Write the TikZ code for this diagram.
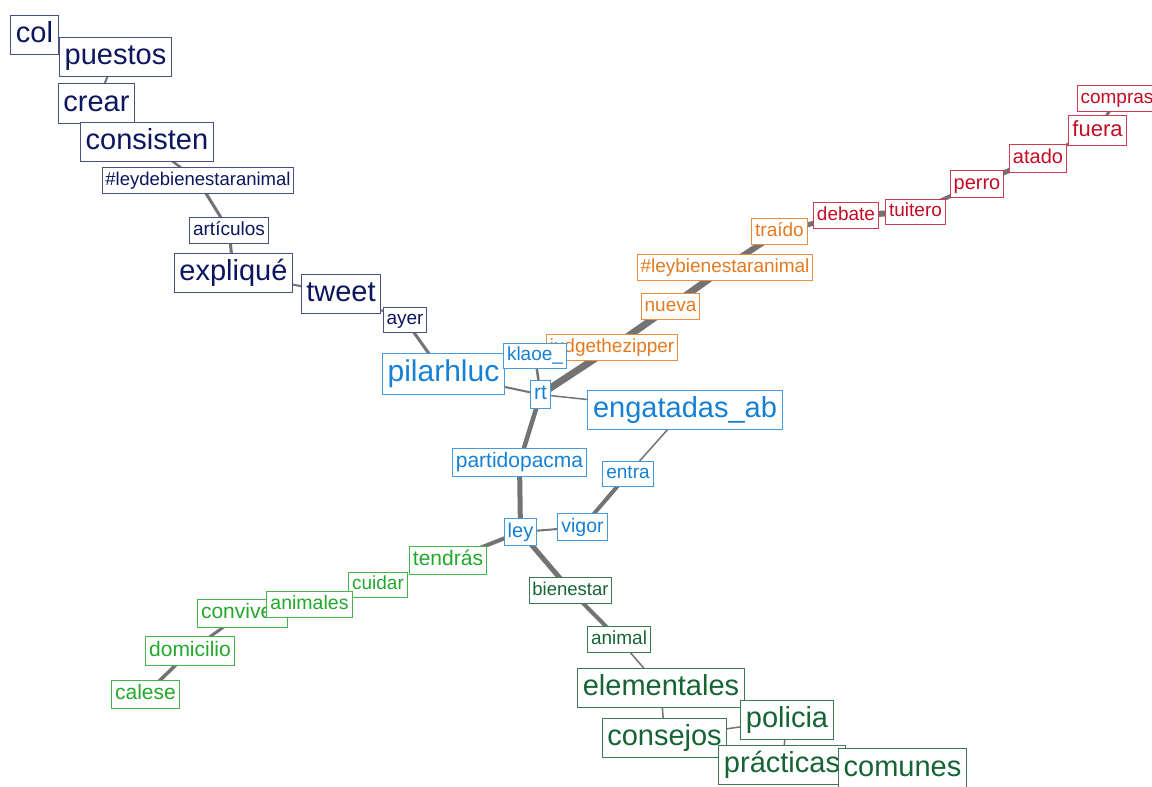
\documentclass[tikz,border=0pt]{standalone}
\usepackage{fontspec}
\setmainfont{Liberation Sans}
\usetikzlibrary{backgrounds}

\definecolor{navyc}{RGB}{12,22,94}
\definecolor{bluec}{RGB}{22,128,212}
\definecolor{orangec}{RGB}{228,122,32}
\definecolor{redc}{RGB}{196,10,36}
\definecolor{greenc}{RGB}{34,168,44}
\definecolor{dgreenc}{RGB}{22,100,52}
\definecolor{edgec}{RGB}{115,115,115}

\tikzset{
  word/.style={draw, fill=white, line width=1pt, anchor=center},
  wsize/.style={font=\fontsize{#1}{#1}\selectfont,
    text height={0.74*#1pt}, text depth={0.22*#1pt},
    inner xsep={0.18*#1pt}, inner ysep={0.2*#1pt}},
  navy/.style={text=navyc, draw=navyc!75},
  blue/.style={text=bluec, draw=bluec!80},
  orange/.style={text=orangec, draw=orangec!85},
  red/.style={text=redc, draw=redc!80},
  green/.style={text=greenc, draw=greenc!85},
  dgreen/.style={text=dgreenc, draw=dgreenc!85},
  link/.style={draw=edgec, line width=#1}
}

\begin{document}
\begin{tikzpicture}[x=1pt, y=-1pt]
  \useasboundingbox (0,0) rectangle (1152,787);

  % navy group
  \node[word, navy, wsize=29] (col) at (34.5,35) {col};
  \node[word, navy, wsize=29] (puestos) at (115.5,57) {puestos};
  \node[word, navy, wsize=29] (crear) at (96.5,103.5) {crear};
  \node[word, navy, wsize=29] (consisten) at (147,142) {consisten};
  \node[word, navy, wsize=18.5] (leydebien) at (198,180.5) {\#leydebienestaranimal};
  \node[word, navy, wsize=19] (articulos) at (229,230.5) {artículos};
  \node[word, navy, wsize=29] (explique) at (233.5,273) {expliqué};
  \node[word, navy, wsize=29] (tweet) at (341,294) {tweet};
  \node[word, navy, wsize=19] (ayer) at (405,320) {ayer};

  % orange group
  \node[word, orange, wsize=19] (zipper) at (612,347.5) {judgethezipper};
  \node[word, orange, wsize=19] (nueva) at (670.5,306.5) {nueva};
  \node[word, orange, wsize=19] (leybien) at (725,267.5) {\#leybienestaranimal};
  \node[word, orange, wsize=19] (traido) at (779.5,231.5) {traído};

  % red group
  \node[word, red, wsize=19] (debate) at (846,215.5) {debate};
  \node[word, red, wsize=19] (tuitero) at (915.5,212) {tuitero};
  \node[word, red, wsize=20] (perro) at (977,184) {perro};
  \node[word, red, wsize=20] (atado) at (1038,158.5) {atado};
  \node[word, red, wsize=22] (fuera) at (1097.5,130.5) {fuera};
  \node[word, red, wsize=19] (compras) at (1117,98.5) {compras};

  % blue group
  \node[word, blue, wsize=30] (pilarhluc) at (443.5,374) {pilarhluc};
  \node[word, blue, wsize=19] (klaoe) at (535,356) {klaoe\_};
  \node[word, blue, wsize=21] (rt) at (540.5,394.5) {rt};
  \node[word, blue, wsize=29] (engatadas) at (685,410) {engatadas\_ab};
  \node[word, blue, wsize=21] (pacma) at (519.5,462.5) {partidopacma};
  \node[word, blue, wsize=19] (entra) at (628,474) {entra};
  \node[word, blue, wsize=20] (ley) at (520.5,532) {ley};
  \node[word, blue, wsize=19.5] (vigor) at (582.5,527) {vigor};

  % green group
  \node[word, green, wsize=21] (tendras) at (448,560.5) {tendrás};
  \node[word, green, wsize=19] (cuidar) at (378,585) {cuidar};
  \node[word, green, wsize=21] (conviven) at (242.5,613.5) {conviven};
  \node[word, green, wsize=19.5] (animales) at (309.5,604.5) {animales};
  \node[word, green, wsize=21] (domicilio) at (190,651) {domicilio};
  \node[word, green, wsize=21] (calese) at (145.5,694.5) {calese};

  % dark green group
  \node[word, dgreen, wsize=18.5] (bienestar) at (570.5,590.5) {bienestar};
  \node[word, dgreen, wsize=19] (animal) at (619,639.5) {animal};
  \node[word, dgreen, wsize=29] (elementales) at (661,688) {elementales};
  \node[word, dgreen, wsize=29] (consejos) at (664.5,738) {consejos};
  \node[word, dgreen, wsize=29] (policia) at (787,720) {policia};
  \node[word, dgreen, wsize=29] (practicas) at (782,765) {prácticas};
  \node[word, dgreen, wsize=29] (comunes) at (902.5,768.5) {comunes};

  % white paper, then links behind the words
  \begin{pgfonlayer}{background}
    \fill[white] (0,0) rectangle (1152,787);
    \foreach \a/\b/\w in {puestos/crear/2, consisten/leydebien/2.5,
        leydebien/articulos/3, articulos/explique/3, explique/tweet/2,
        tweet/ayer/2, ayer/pilarhluc/3, pilarhluc/rt/2, klaoe/rt/2.5,
        rt/engatadas/1.5, rt/zipper/7, zipper/nueva/7, nueva/leybien/7,
        leybien/traido/6, traido/debate/5, debate/tuitero/6, tuitero/perro/4,
        perro/atado/5, atado/fuera/3, fuera/compras/3,
        rt/pacma/4.5, pacma/ley/5, engatadas/entra/1.5, entra/vigor/4,
        ley/vigor/2, ley/tendras/4, ley/bienestar/5, bienestar/animal/4,
        animal/elementales/1.5, elementales/consejos/1.5,
        consejos/policia/1.5, policia/practicas/1.5,
        conviven/domicilio/3, domicilio/calese/3.5}
      \draw[link=\w pt] (\a.center) -- (\b.center);
  \end{pgfonlayer}
\end{tikzpicture}
\end{document}
